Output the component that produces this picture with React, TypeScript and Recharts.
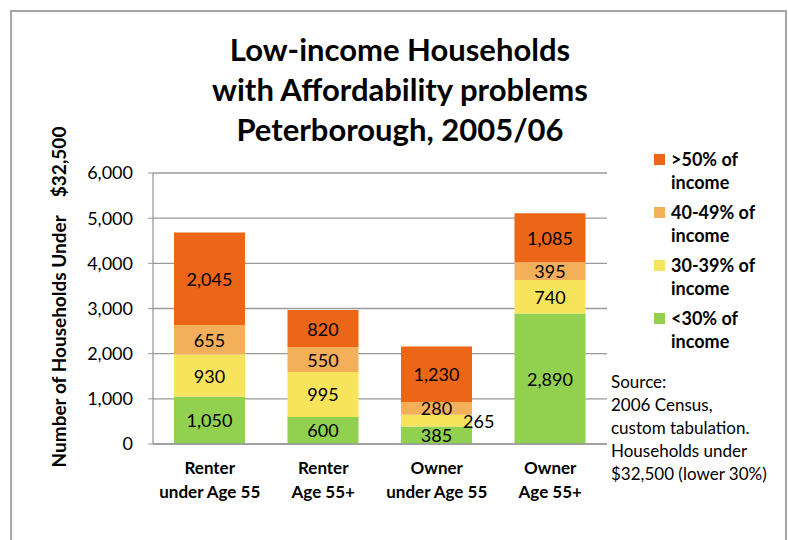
import React from "react";
import { BarChart, Bar, XAxis, YAxis, CartesianGrid, LabelList } from "recharts";

const categories = ["Renter|under Age 55", "Renter|Age 55+", "Owner|under Age 55", "Owner|Age 55+"];
const under30 = [1050, 600, 385, 2890];
const p30to39 = [930, 995, 265, 740];
const p40to49 = [655, 550, 280, 395];
const over50 = [2045, 820, 1230, 1085];
const yTicks = [0, 1000, 2000, 3000, 4000, 5000, 6000];
const legendNames = [">50% of|income", "40-49% of|income", "30-39% of|income", "<30% of|income"];
const legendColors = ["#EC6618", "#F4AF5A", "#F8E45C", "#92D050"];
const sourceLines = ["Source:", "2006 Census,", "custom tabulation.", "Households under", "$32,500 (lower 30%)"];
const titleLines = ["Low-income Households", "with Affordability problems", "Peterborough, 2005/06"];

const data = categories.map((c, i) => ({
  cat: c,
  under30: under30[i],
  p30to39: p30to39[i],
  p40to49: p40to49[i],
  over50: over50[i],
}));

const FONT = "Lato, 'Open Sans', sans-serif";
const fmt = (v: number) => v.toLocaleString("en-US");

const SegLabel = (props: any) => {
  const { x, y, width, height, value } = props;
  const small = height < 20 && value === 265;
  if (small) {
    return (
      <text x={x + width - 9} y={y + height / 2} textAnchor="start" dominantBaseline="central"
        fontFamily={FONT} fontSize={18} fill="#000">{fmt(value)}</text>
    );
  }
  return (
    <text x={x + width / 2} y={y + height / 2} textAnchor="middle" dominantBaseline="central"
      fontFamily={FONT} fontSize={18} fill="#000">{fmt(value)}</text>
  );
};

const XTick = (props: any) => {
  const { x, y, payload } = props;
  const lines = String(payload.value).split("|");
  return (
    <g>
      {lines.map((l, i) => (
        <text key={i} x={x} y={y + 15 + i * 24} textAnchor="middle" dominantBaseline="central"
          fontFamily={FONT} fontWeight="bold" fontSize={17} fill="#000">{l}</text>
      ))}
    </g>
  );
};

const YLabel = () => (
  <text x={58} y={297} transform="rotate(-90 58 297)" textAnchor="middle" dominantBaseline="central"
    fontFamily={FONT} fontWeight="bold" fontSize={19} fill="#000">
    {"Number of Households Under\u00A0\u00A0\u00A0\u00A0$32,500"}
  </text>
);

export default function App() {
  return (
    <div style={{ position: "absolute", left: 0, top: 0, width: 788, height: 540, background: "#fff", overflow: "hidden" }}>
      <div style={{ position: "absolute", left: 10, top: 10, width: 777, height: 560, border: "2px solid #A6A6A6", boxSizing: "border-box" }} />
      <div style={{ position: "absolute", left: 0, top: 29, width: 800, textAlign: "center", fontFamily: FONT, fontWeight: "bold", fontSize: 31, lineHeight: "40px", color: "#000" }}>
        {titleLines.map((t) => <div key={t}>{t}</div>)}
      </div>
      <div style={{ position: "absolute", left: 611, top: 370, fontFamily: FONT, fontSize: 17, lineHeight: "23px", color: "#000" }}>
        {sourceLines.map((t) => <div key={t}>{t}</div>)}
      </div>
      <div style={{ position: "absolute", left: 654, top: 148, fontFamily: FONT, fontWeight: "bold", fontSize: 18, color: "#000", lineHeight: "23px" }}>
        {legendNames.map((n, i) => {
          const [a, b] = n.split("|");
          return (
            <div key={n} style={{ position: "relative", paddingLeft: 17, height: 53 }}>
              <div style={{ position: "absolute", left: 0, top: 6, width: 11, height: 11, background: legendColors[i] }} />
              <div>{a}</div>
              <div>{b}</div>
            </div>
          );
        })}
      </div>
      <div style={{ position: "absolute", left: 0, top: 0 }}>
        <BarChart width={788} height={540} data={data} margin={{ top: 173, right: 181, bottom: 66, left: 0 }} barSize={71}>
          <CartesianGrid vertical={false} stroke="#9A9A9A" strokeWidth={1.3} />
          <XAxis dataKey="cat" tick={<XTick />} tickLine={false} axisLine={{ stroke: "#9A9A9A", strokeWidth: 1.3 }} interval={0} height={30} />
          <YAxis width={153} domain={[0, 6000]} ticks={yTicks} tickFormatter={fmt}
            tick={{ fontFamily: FONT, fontSize: 18, fill: "#000" }}
            tickLine={{ stroke: "#9A9A9A" }} tickSize={5} tickMargin={15}
            axisLine={{ stroke: "#9A9A9A", strokeWidth: 1.3 }}
            label={<YLabel />} />
          <Bar dataKey="under30" name="<30% of income" stackId="a" fill={legendColors[3]} isAnimationActive={false}>
            <LabelList dataKey="under30" content={<SegLabel />} />
          </Bar>
          <Bar dataKey="p30to39" name="30-39% of income" stackId="a" fill={legendColors[2]} isAnimationActive={false}>
            <LabelList dataKey="p30to39" content={<SegLabel />} />
          </Bar>
          <Bar dataKey="p40to49" name="40-49% of income" stackId="a" fill={legendColors[1]} isAnimationActive={false}>
            <LabelList dataKey="p40to49" content={<SegLabel />} />
          </Bar>
          <Bar dataKey="over50" name=">50% of income" stackId="a" fill={legendColors[0]} isAnimationActive={false}>
            <LabelList dataKey="over50" content={<SegLabel />} />
          </Bar>
        </BarChart>
      </div>
    </div>
  );
}
